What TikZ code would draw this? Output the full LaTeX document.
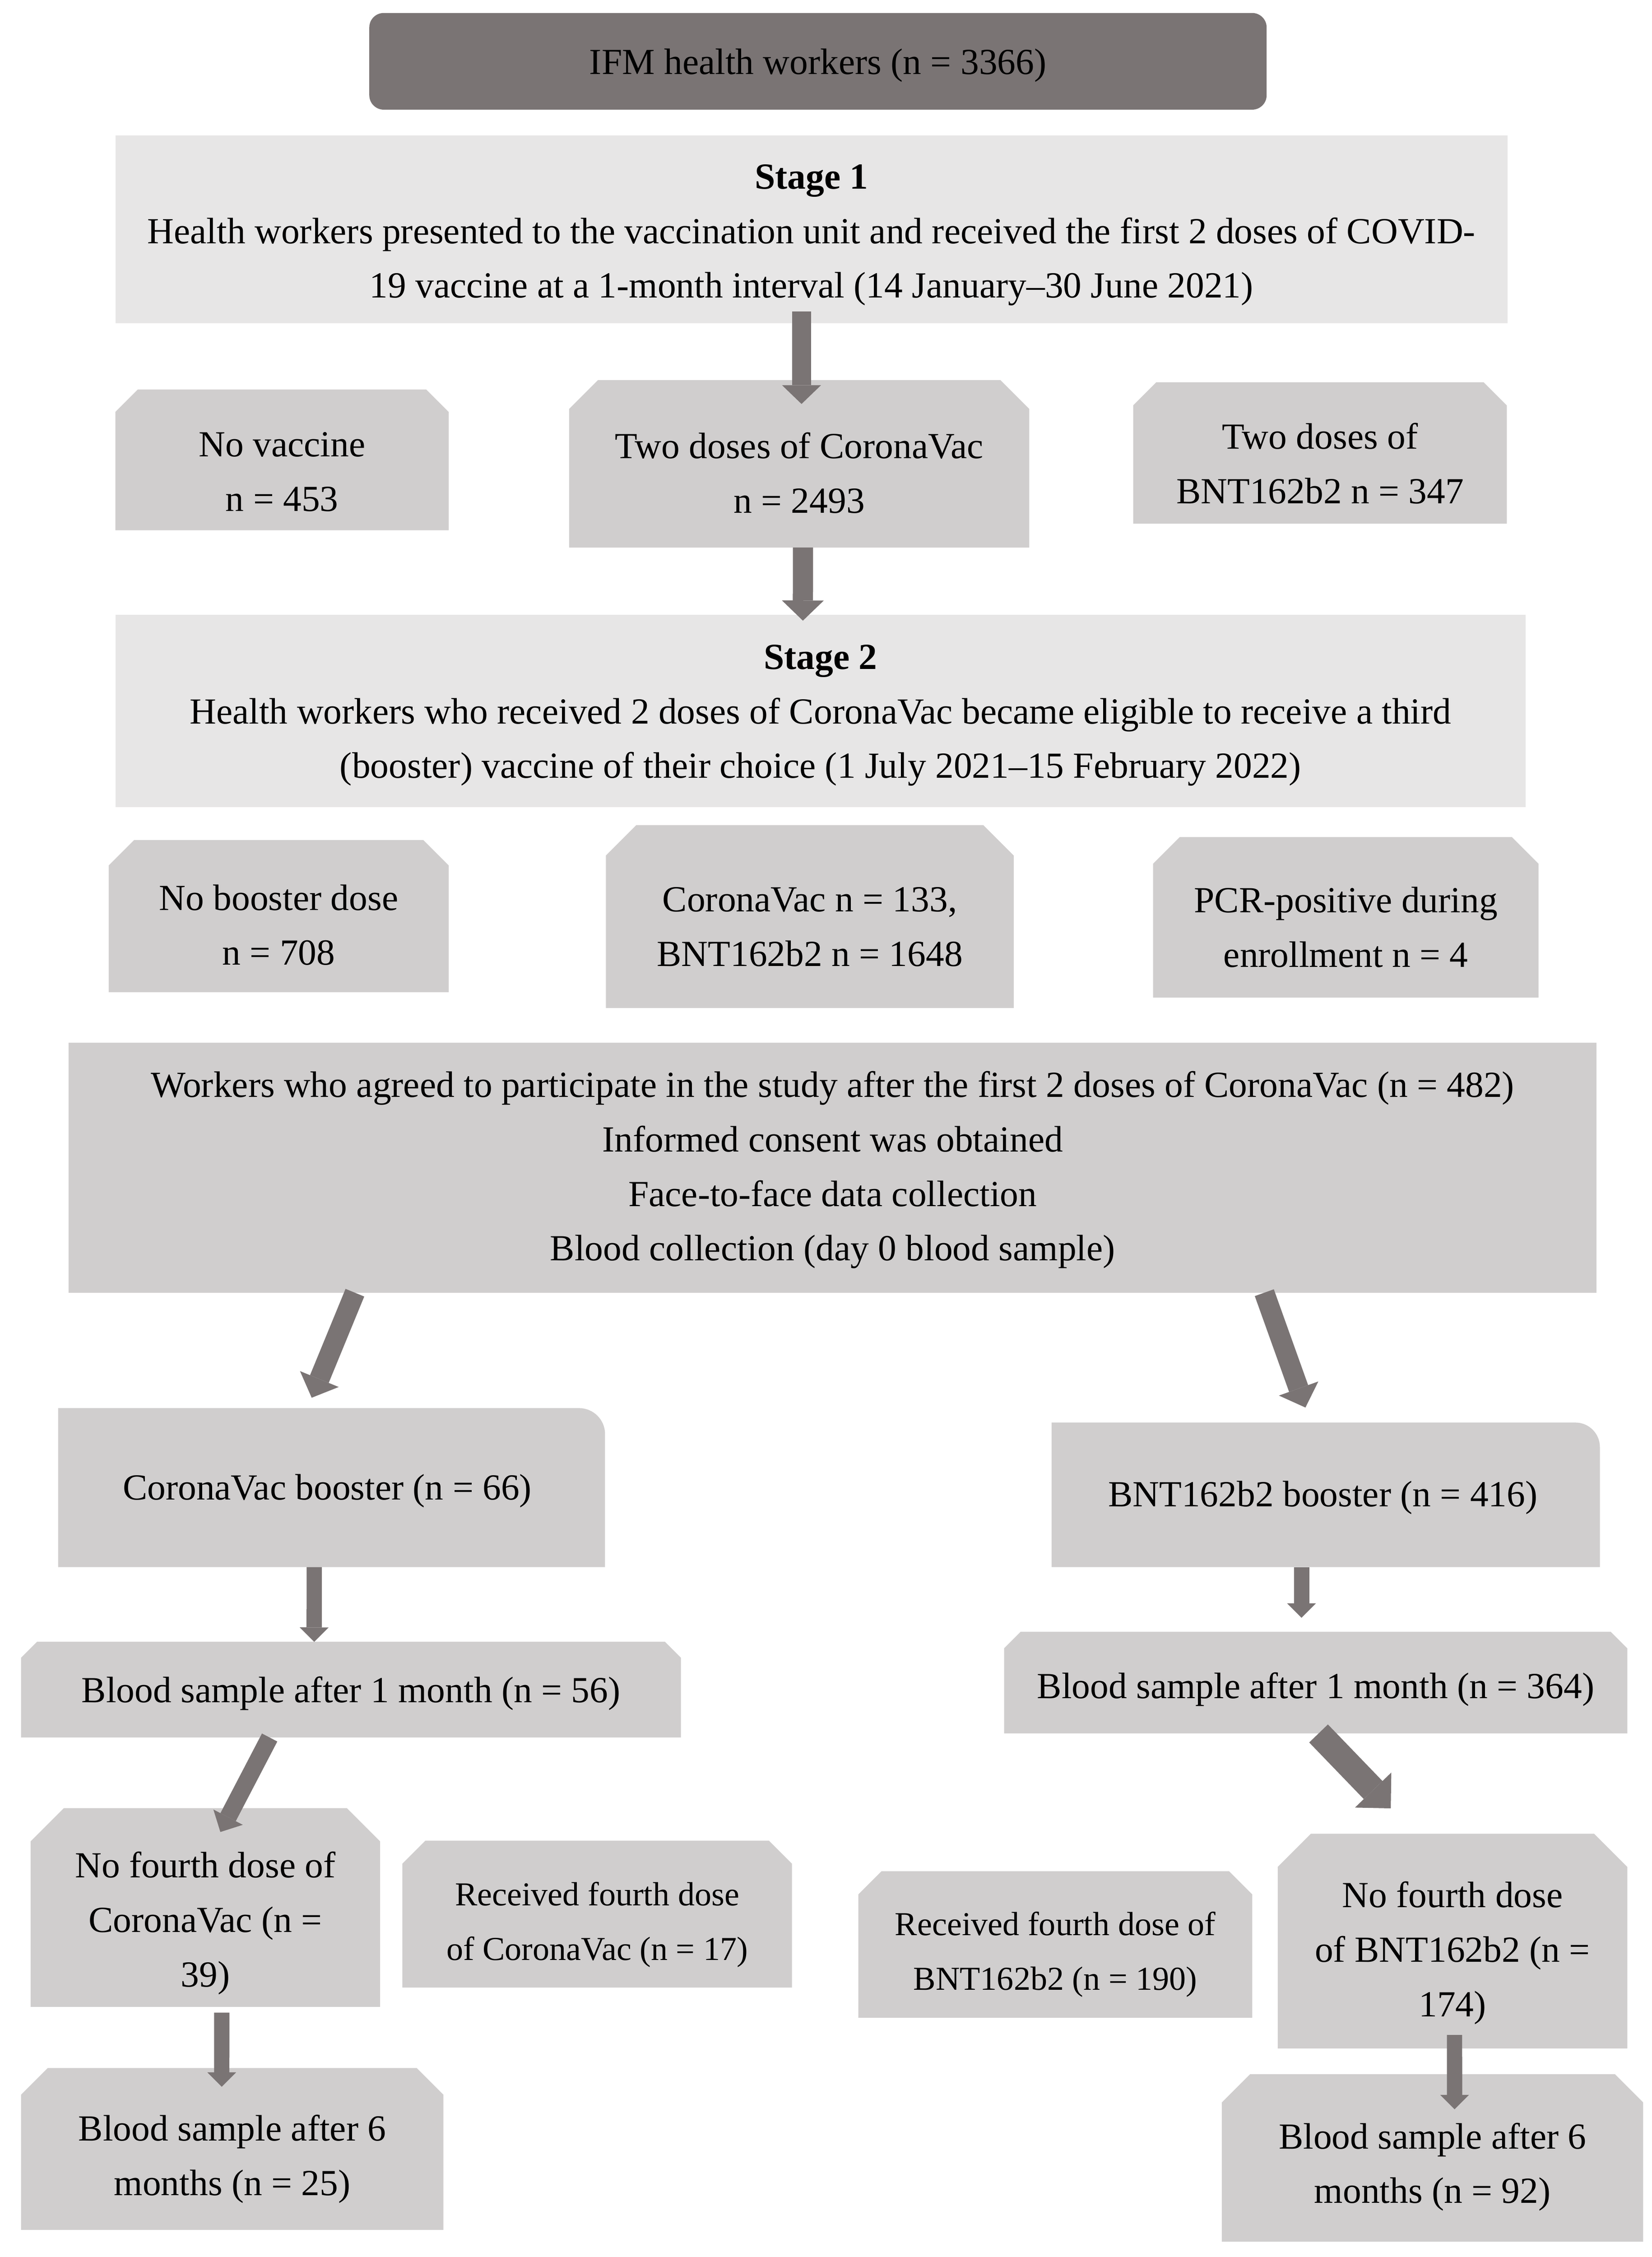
\documentclass[tikz,border=0pt]{standalone}
\usepackage{fontspec}
\setmainfont{Liberation Serif}
\usetikzlibrary{arrows.meta}

\definecolor{darkbox}{HTML}{7A7474}
\definecolor{lightbox}{HTML}{E7E6E6}
\definecolor{midbox}{HTML}{D0CECE}

\tikzset{
	box/.style={shape=rectangle, inner sep=0pt, outer sep=0pt},
	topbox/.style={box, fill=darkbox, rounded corners=5pt},
	stagebox/.style={box, fill=lightbox},
	plainbox/.style={box, fill=midbox},
	% both top corners cut off
	snipbox/.style={box, path picture={
		\fill[midbox] (path picture bounding box.south west)
			-- ([yshift=-#1]path picture bounding box.north west)
			-- ([xshift=#1]path picture bounding box.north west)
			-- ([xshift=-#1]path picture bounding box.north east)
			-- ([yshift=-#1]path picture bounding box.north east)
			-- (path picture bounding box.south east) -- cycle;}},
	% only the top right corner rounded
	roundbox/.style={box, path picture={
		\fill[midbox] (path picture bounding box.south west)
			-- (path picture bounding box.north west)
			-- ([xshift=-#1]path picture bounding box.north east)
			arc[start angle=90, end angle=0, radius=#1]
			-- (path picture bounding box.south east) -- cycle;}},
	txt/.style={align=center, inner sep=0pt, font=\fontsize{12.75}{18.9}\selectfont},
	smalltxt/.style={txt, font=\fontsize{11.6}{18.9}\selectfont},
	thickflow/.style={draw=darkbox, line width=7pt, -{Triangle[length=7pt, width=14.5pt, line width=0pt]}},
	flow/.style={draw=darkbox, line width=6.5pt, -{Triangle[length=6.5pt, width=13.5pt, line width=0pt]}},
	midflow/.style={draw=darkbox, line width=6pt, -{Triangle[length=5.8pt, width=11.5pt, line width=0pt]}},
	thinflow/.style={draw=darkbox, line width=5.3pt, -{Triangle[length=5pt, width=10pt, line width=0pt]}},
	wideflow/.style={draw=darkbox, line width=9pt, -{Triangle[length=8.8pt, width=17.5pt, line width=0pt]}},
}

\begin{document}
\begin{tikzpicture}[x=0.5pt, y=-0.5pt]
	\path[use as bounding box, fill=white] (0, 0) rectangle (1145, 1564.4);

	% stage 1
	\node[topbox, minimum width=311pt, minimum height=33.5pt] (ifm) at (567, 42.5) {};
	\node[txt] (ifm-t) at ([yshift=-1.4pt]ifm.center) {IFM health workers (n = 3366)};
	\node[stagebox, minimum width=482.5pt, minimum height=65pt] (stage1) at (562.5, 159) {};
	\node[txt] (stage1-t) at ([yshift=-2pt]stage1.center) {\textbf{Stage 1}\\Health workers presented to the vaccination unit and received the first 2 doses of COVID-\\19 vaccine at a 1-month interval (14 January--30 June 2021)};

	\node[snipbox=7.75pt, minimum width=115.5pt, minimum height=48.75pt] (novac) at (195.5, 318.75) {};
	\node[snipbox=10pt, minimum width=159.5pt, minimum height=58pt] (twocv) at (554, 321.5) {};
	\node[snipbox=8pt, minimum width=129.5pt, minimum height=49pt] (twobnt) at (915, 314) {};
	\node[txt] (novac-t) at ([yshift=-4.2pt]novac.center) {No vaccine\\n = 453};
	\node[txt] (twocv-t) at ([yshift=-3.1pt]twocv.center) {Two doses of CoronaVac\\n = 2493};
	\node[txt] (twobnt-t) at ([yshift=-3.6pt]twobnt.center) {Two doses of\\BNT162b2 n = 347};

	% stage 2
	\node[stagebox, minimum width=488.75pt, minimum height=66.65pt] (stage2) at (568.75, 492.65) {};
	\node[txt] (stage2-t) at ([yshift=-1.6pt]stage2.center) {\textbf{Stage 2}\\Health workers who received 2 doses of CoronaVac became eligible to receive a third\\(booster) vaccine of their choice (1 July 2021--15 February 2022)};

	\node[snipbox=8.75pt, minimum width=117.8pt, minimum height=52.7pt] (nobst) at (193.2, 635) {};
	\node[snipbox=10.5pt, minimum width=141.35pt, minimum height=63.35pt] (boost) at (561.35, 635.35) {};
	\node[snipbox=9.25pt, minimum width=133.6pt, minimum height=55.6pt] (pcr) at (932.9, 635.8) {};
	\node[txt] (nobst-t) at ([yshift=-3pt]nobst.center) {No booster dose\\n = 708};
	\node[txt] (boost-t) at ([yshift=-3.55pt]boost.center) {CoronaVac n = 133,\\BNT162b2 n = 1648};
	\node[txt] (pcr-t) at ([yshift=-3.5pt]pcr.center) {PCR-positive during\\enrollment n = 4};

	% study cohort
	\node[plainbox, minimum width=529.6pt, minimum height=86.7pt] (workers) at (577.2, 809.3) {};
	\node[txt] (workers-t) at ([yshift=-0.8pt]workers.center) {Workers who agreed to participate in the study after the first 2 doses of CoronaVac (n = 482)\\Informed consent was obtained\\Face-to-face data collection\\Blood collection (day 0 blood sample)};

	\node[roundbox=9pt, minimum width=189.55pt, minimum height=55.1pt] (cvbst) at (229.85, 1031.1) {};
	\node[roundbox=8.5pt, minimum width=190pt, minimum height=50.1pt] (bntbst) at (919, 1036.1) {};
	\node[txt] (cvbst-t) at ([xshift=-1.5pt, yshift=-1.2pt]cvbst.center) {CoronaVac booster (n = 66)};
	\node[txt] (bntbst-t) at ([xshift=-1pt, yshift=-1pt]bntbst.center) {BNT162b2 booster (n = 416)};

	\node[snipbox=5.5pt, minimum width=228.7pt, minimum height=33.15pt] (cvblood1) at (243.3, 1171.15) {};
	\node[snipbox=5.75pt, minimum width=216pt, minimum height=35.25pt] (bntblood1) at (912, 1166.25) {};
	\node[txt] (cvblood1-t) at ([yshift=-1.3pt]cvblood1.center) {Blood sample after 1 month (n = 56)};
	\node[txt] (bntblood1-t) at ([yshift=-2.4pt]bntblood1.center) {Blood sample after 1 month (n = 364)};

	% fourth dose
	\node[snipbox=11.5pt, minimum width=121.15pt, minimum height=68.85pt] (cvno4) at (142.35, 1322.15) {};
	\node[snipbox=8pt, minimum width=135.05pt, minimum height=50.9pt] (cvyes4) at (413.95, 1326.7) {};
	\node[snipbox=8pt, minimum width=136.5pt, minimum height=50.8pt] (bntyes4) at (731.5, 1347.8) {};
	\node[snipbox=11.5pt, minimum width=121.15pt, minimum height=74.4pt] (bntno4) at (1006.85, 1345.4) {};
	\node[txt] (cvno4-t) at ([yshift=-5.4pt]cvno4.center) {No fourth dose of\\CoronaVac (n =\\39)};
	\node[smalltxt] (cvyes4-t) at ([yshift=-3.7pt]cvyes4.center) {Received fourth dose\\of CoronaVac (n = 17)};
	\node[smalltxt] (bntyes4-t) at ([yshift=-3.4pt]bntyes4.center) {Received fourth dose of\\BNT162b2 (n = 190)};
	\node[txt] (bntno4-t) at ([yshift=-4.1pt]bntno4.center) {No fourth dose\\of BNT162b2 (n =\\174)};

	\node[snipbox=9.25pt, minimum width=146.4pt, minimum height=56.1pt] (cvblood6) at (161, 1489.5) {};
	\node[snipbox=9.75pt, minimum width=146pt, minimum height=58.05pt] (bntblood6) at (993, 1495.75) {};
	\node[txt] (cvblood6-t) at ([yshift=-3.5pt]cvblood6.center) {Blood sample after 6\\months (n = 25)};
	\node[txt] (bntblood6-t) at ([yshift=-3.1pt]bntblood6.center) {Blood sample after 6\\months (n = 92)};

	% arrows
	\draw[flow] ([xshift=-3.45pt, yshift=4.1pt]stage1.south) -- ([xshift=0.8pt, yshift=-8.25pt]twocv.north);
	\draw[thickflow] ([xshift=1.3pt]twocv.south) -- ([xshift=-6.1pt, yshift=-2.1pt]stage2.north);
	\draw[thickflow] ([xshift=99.2pt]workers.south west) -- ([xshift=-6.9pt, yshift=3.6pt]cvbst.north);
	\draw[thickflow] ([xshift=-115.2pt]workers.south east) -- ([xshift=-7.05pt, yshift=5.2pt]bntbst.north);
	\draw[thinflow] ([xshift=-6pt]cvbst.south) -- ([xshift=-12.75pt]cvblood1.north);
	\draw[thinflow] ([xshift=-8.4pt]bntbst.south) -- ([xshift=-4.9pt, yshift=4.85pt]bntblood1.north);
	\draw[midflow] ([xshift=-28.2pt]cvblood1.south) -- ([xshift=5.2pt, yshift=-8.25pt]cvno4.north);
	\draw[wideflow] ([xshift=1pt]bntblood1.south) -- ([xshift=-21.4pt, yshift=8.8pt]bntno4.north);
	\draw[thinflow] ([xshift=5.7pt, yshift=-2pt]cvno4.south) -- ([xshift=-3.65pt, yshift=-6.5pt]cvblood6.north);
	\draw[thinflow] ([xshift=0.7pt, yshift=4.65pt]bntno4.south) -- ([xshift=7.65pt, yshift=-12.15pt]bntblood6.north);
\end{tikzpicture}
\end{document}
